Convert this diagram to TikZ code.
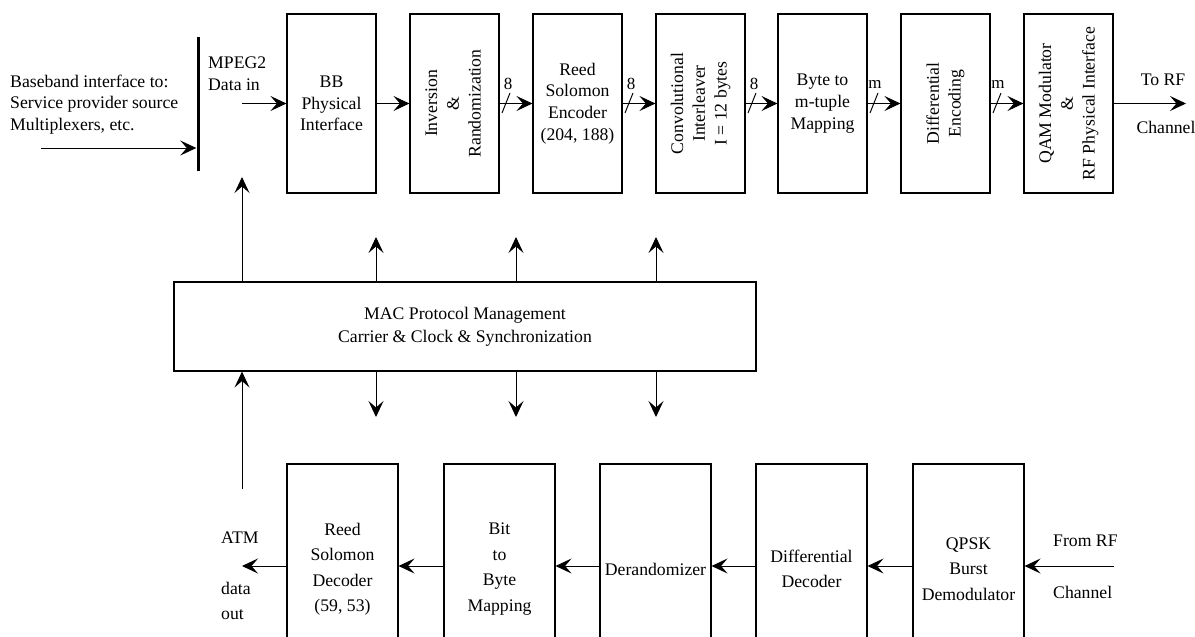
\documentclass[tikz,border=0pt]{standalone}
\usepackage{fontspec}
\setmainfont{Liberation Serif}
\usetikzlibrary{arrows.meta}
\begin{document}
\begin{tikzpicture}[x=1pt,y=-1pt,
  txt/.style={font=\fontsize{17.7}{21.7}\selectfont, align=center, inner sep=0pt},
  tbox/.style={draw, line width=1.1pt, minimum width=89pt, minimum height=179pt, inner sep=0pt, font=\fontsize{17.7}{21.7}\selectfont, align=center},
  bbox/.style={draw, line width=1.1pt, minimum width=111pt, minimum height=210pt, inner sep=0pt, font=\fontsize{17.7}{25.5}\selectfont, align=center},
  arr/.style={line width=1pt, -{Stealth[length=16pt,width=15pt,inset=6.5pt]}},
  lbl/.style={font=\fontsize{17}{20}\selectfont, inner sep=0pt},
  slashline/.style={line width=1pt}
]
\useasboundingbox (0,0) rectangle (1195,637);
\clip (0,0) rectangle (1195,637);

% ---- top chain ----
\node[tbox] (t1) at (331.5,103.5) {BB\\Physical\\Interface};
\node[tbox] (t2) at (454.5,103.5) {\rotatebox{90}{\begin{tabular}{@{}c@{}}Inversion\\ \&\\ Randomization\end{tabular}}};
\node[tbox] (t3) at (577.5,103.5) {Reed\\Solomon\\Encoder\\(204, 188)};
\node[tbox] (t4) at (700.5,103.5) {\rotatebox{90}{\begin{tabular}{@{}c@{}}Convolutional\\ Interleaver\\ I = 12 bytes\end{tabular}}};
\node[tbox] (t5) at (822.5,103.5) {Byte to\\m-tuple\\Mapping};
\node[tbox] (t6) at (945.5,103.5) {\rotatebox{90}{\begin{tabular}{@{}c@{}}Differential\\ Encoding\end{tabular}}};
\node[tbox] (t7) at (1068.5,103.5) {\rotatebox{90}{\begin{tabular}{@{}c@{}}QAM Modulator\\ \&\\ RF Physical Interface\end{tabular}}};

% input side
\node[txt, anchor=west, align=left] (bbtext) at (10,104.5) {Baseband interface to:\\Service provider source\\Multiplexers, etc.};
\node[fill=black, minimum width=3pt, minimum height=134pt, inner sep=0pt] (bar) at (198,104) {};
\coordinate (src) at (41,148);
\draw[arr] (src) -- (src -| bar.west);
\node[txt, anchor=west, align=left] (mpeg) at (208,74) {MPEG2\\Data in};
\coordinate (mpegin) at (242,103.5);
\draw[arr] (mpegin) -- (t1.west);

\draw[arr] (t1.east) -- (t2.west);
\draw[arr] (t2.east) -- (t3.west);
\draw[arr] (t3.east) -- (t4.west);
\draw[arr] (t4.east) -- (t5.west);
\draw[arr] (t5.east) -- (t6.west);
\draw[arr] (t6.east) -- (t7.west);
\coordinate (rfout) at (1186,103.5);
\draw[arr] (t7.east) -- (rfout);
\node[txt] (torf) at (1163,80) {To RF};
\node[txt] (chan1) at (1166,127) {Channel};

% bus-width slashes
\foreach \sx/\lab/\dx in {506/8/2, 629/8/2, 752/8/2, 874/m/1, 997/m/1}{
  \draw[slashline] (\sx-4,113) -- (\sx+4,93);
  \node[lbl] at (\sx+\dx,84) {\lab};
}

% ---- MAC block ----
\node[draw, line width=1.1pt, minimum width=582pt, minimum height=89pt, inner sep=0pt, font=\fontsize{17.7}{23}\selectfont, align=center] (mac) at (465,326.5) {MAC Protocol Management\\Carrier \& Clock \& Synchronization};

\coordinate (uptip) at (242,177);
\draw[arr] (mac.north -| uptip) -- (uptip);
\coordinate (atmline) at (242,489);
\draw[arr] (atmline) -- (mac.south -| atmline);

\foreach \ax [count=\i] in {376,516,656}{
  \coordinate (u\i) at (\ax,237);
  \coordinate (d\i) at (\ax,417);
  \draw[arr] (mac.north -| u\i) -- (u\i);
  \draw[arr] (mac.south -| d\i) -- (d\i);
}

% ---- bottom chain ----
\node[bbox] (b1) at (342.5,569) {Reed\\Solomon\\Decoder\\(59, 53)};
\node[bbox] (b2) at (499.5,569) {Bit\\to\\Byte\\Mapping};
\node[bbox] (b3) at (655.5,569) {Derandomizer};
\node[bbox] (b4) at (811.5,569) {Differential\\Decoder};
\node[bbox] (b5) at (968.5,569) {QPSK\\Burst\\Demodulator};

\coordinate (atmout) at (242,566);
\coordinate (rfin) at (1114,566);
\draw[arr] (b1.west |- atmout) -- (atmout);
\draw[arr] (b2.west |- atmout) -- (b1.east |- atmout);
\draw[arr] (b3.west |- atmout) -- (b2.east |- atmout);
\draw[arr] (b4.west |- atmout) -- (b3.east |- atmout);
\draw[arr] (b5.west |- atmout) -- (b4.east |- atmout);
\draw[arr] (rfin) -- (b5.east |- rfin);

\node[txt, anchor=west] (atm) at (221,538) {ATM};
\node[txt, anchor=west, font=\fontsize{17.7}{25.5}\selectfont, align=left] (dataout) at (221,601) {data\\out};
\node[txt, anchor=west] (fromrf) at (1053,541) {From RF};
\node[txt, anchor=west] (chan2) at (1053,592) {Channel};
\end{tikzpicture}
\end{document}
